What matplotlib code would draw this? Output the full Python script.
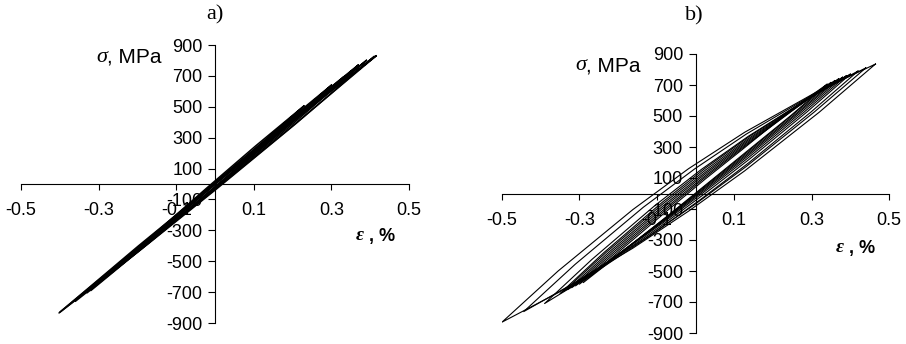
import matplotlib
matplotlib.use("Agg")
import matplotlib.pyplot as plt

plt.rcParams['font.family'] = ['Liberation Sans', 'DejaVu Sans']

# axis ticks (both panels)
x_ticks = [-0.5, -0.3, -0.1, 0.1, 0.3, 0.5]
x_tick_labels = ["-0.5", "-0.3", "-0.1", "0.1", "0.3", "0.5"]
y_ticks = [900, 700, 500, 300, 100, -100, -300, -500, -700, -900]
y_tick_labels = [str(v) for v in y_ticks]

# panel a) - thin loops; same strain points for upper and lower branch
eps_a = [
    [-0.402, -0.198, 0.007, 0.211, 0.415],
    [-0.400, -0.197, 0.005, 0.208, 0.410],
    [-0.360, -0.172, 0.015, 0.203, 0.390],
    [-0.330, -0.155, 0.020, 0.194, 0.369],
    [-0.320, -0.165, -0.010, 0.145, 0.300],
    [-0.296, -0.132, 0.032, 0.196, 0.360],
    [-0.270, -0.145, -0.020, 0.104, 0.229],
    [-0.250, -0.105, 0.040, 0.185, 0.330],
]
sig_a_up = [
    [-835, -402, 19, 430, 829],
    [-830, -408, 8, 419, 825],
    [-760, -355, 40, 425, 800],
    [-705, -322, 51, 415, 770],
    [-690, -345, -9, 320, 640],
    [-634, -278, 71, 411, 745],
    [-580, -298, -23, 245, 505],
    [-540, -223, 87, 392, 690],
]
sig_a_low = [
    [-835, -433, -21, 399, 829],
    [-830, -437, -30, 390, 825],
    [-760, -385, 0, 395, 800],
    [-705, -347, 19, 390, 770],
    [-690, -369, -41, 296, 640],
    [-634, -298, 44, 391, 745],
    [-580, -317, -47, 226, 505],
    [-540, -238, 67, 377, 690],
]

# panel b) - wide hysteresis loops
eps_b = [
    [-0.500, -0.355, -0.162, -0.018, 0.127, 0.320, 0.465],
    [-0.444, -0.311, -0.135, -0.002, 0.131, 0.307, 0.440],
    [-0.390, -0.268, -0.106, 0.015, 0.137, 0.299, 0.420],
    [-0.350, -0.237, -0.087, 0.025, 0.138, 0.288, 0.400],
    [-0.340, -0.230, -0.084, 0.025, 0.135, 0.281, 0.390],
    [-0.330, -0.223, -0.081, 0.025, 0.132, 0.274, 0.380],
    [-0.320, -0.216, -0.078, 0.025, 0.129, 0.267, 0.370],
    [-0.310, -0.209, -0.075, 0.025, 0.126, 0.260, 0.360],
    [-0.300, -0.202, -0.072, 0.025, 0.123, 0.253, 0.350],
    [-0.290, -0.195, -0.069, 0.025, 0.120, 0.246, 0.340],
]
sig_b_up = [
    [-830, -500, -104, 160, 395, 665, 835],
    [-762, -457, -89, 159, 383, 643, 810],
    [-710, -426, -80, 155, 370, 624, 790],
    [-645, -382, -59, 163, 366, 609, 770],
    [-630, -378, -66, 150, 351, 595, 760],
    [-620, -377, -74, 137, 337, 582, 750],
    [-608, -375, -81, 126, 323, 569, 740],
    [-596, -373, -89, 114, 309, 553, 728],
    [-585, -371, -95, 104, 296, 540, 716],
    [-575, -369, -102, 93, 282, 538, 705],
]
sig_b_low = [
    [-830, -640, -353, -114, 146, 525, 835],
    [-762, -574, -298, -71, 174, 526, 810],
    [-710, -523, -253, -35, 197, 527, 790],
    [-645, -465, -206, 1, 219, 526, 770],
    [-630, -447, -189, 15, 228, 526, 760],
    [-620, -434, -176, 25, 235, 525, 750],
    [-608, -422, -165, 34, 239, 522, 740],
    [-596, -410, -156, 41, 242, 516, 728],
    [-585, -399, -146, 48, 245, 512, 716],
    [-575, -389, -138, 53, 246, 502, 705],
]

W, H = 906, 344


def setup_axes(ax):
    ax.set_xlim(-0.5, 0.5)
    ax.set_ylim(-900, 900)
    ax.patch.set_visible(False)
    ax.spines['left'].set_position(('data', 0))
    ax.spines['bottom'].set_position(('data', 0))
    ax.spines['top'].set_visible(False)
    ax.spines['right'].set_visible(False)
    for s in ['left', 'bottom']:
        ax.spines[s].set_linewidth(0.8)
    ax.set_xticks(x_ticks)
    ax.set_xticklabels(x_tick_labels)
    ax.set_yticks(y_ticks)
    ax.set_yticklabels(y_tick_labels)
    ax.tick_params(axis='x', direction='out', length=4, width=0.8, pad=9, labelsize=13)
    ax.tick_params(axis='y', direction='out', length=5, width=0.8, pad=4, labelsize=13)


def draw_loops(ax, eps, up, low, lw):
    for e, su, sl in zip(eps, up, low):
        xs = e[::-1] + e[1:]
        ys = su[::-1] + sl[1:]
        ax.plot(xs, ys, color='k', lw=lw, zorder=3)


def ftext(x, y, s, **kw):
    fig.text(x / W, 1 - y / H, s, va='center', **kw)


fig = plt.figure(figsize=(9.06, 3.44), dpi=100)
ax_a = fig.add_axes([21 / W, 21 / H, 388 / W, 278 / H])
ax_b = fig.add_axes([502 / W, 11 / H, 387 / W, 279 / H])

setup_axes(ax_a)
setup_axes(ax_b)
draw_loops(ax_a, eps_a, sig_a_up, sig_a_low, 1.1)
draw_loops(ax_b, eps_b, sig_b_up, sig_b_low, 0.8)

# panel titles
ftext(215, 15, "a)", ha='center', family='Liberation Serif', size=16)
ftext(694, 16, "b)", ha='center', family='Liberation Serif', size=16)

# axis labels
ftext(107, 57, "σ", ha='right', family='Liberation Serif', style='italic', size=16)
ftext(107, 57, ", MPa", ha='left', size=15)
ftext(586, 66, "σ", ha='right', family='Liberation Serif', style='italic', size=16)
ftext(586, 66, ", MPa", ha='left', size=15)
ftext(364, 236, "ε", ha='right', family='Liberation Serif', style='italic', weight='bold', size=14)
ftext(364, 236, " , %", ha='left', weight='bold', size=13)
ftext(844, 248, "ε", ha='right', family='Liberation Serif', style='italic', weight='bold', size=14)
ftext(844, 248, " , %", ha='left', weight='bold', size=13)

fig.savefig("out.png", dpi=100)
